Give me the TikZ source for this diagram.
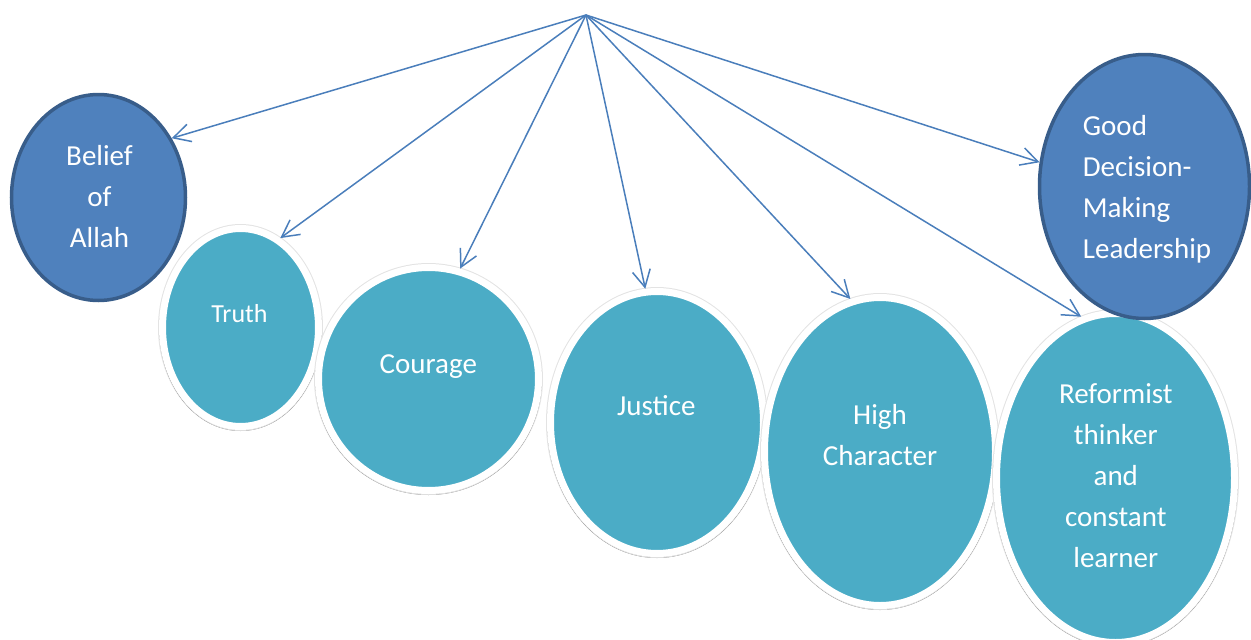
\documentclass[tikz,border=0pt]{standalone}
\usepackage{fontspec}
\setmainfont{Carlito}
\usetikzlibrary{arrows.meta,shapes.geometric,shadows.blur}
\definecolor{darkfill}{HTML}{4F81BD}
\definecolor{darkline}{HTML}{385D8A}
\definecolor{tealfill}{HTML}{4BACC6}
\definecolor{arrowblue}{HTML}{4A7EBB}

\begin{document}
\begin{tikzpicture}[x=1pt,y=-1pt,
  core/.style={ellipse, inner sep=0pt, fill=darkfill, draw=darkline, line width=3.5pt},
  trait/.style={ellipse, inner sep=0pt, fill=tealfill, draw=white, line width=7pt,
    preaction={draw=black!11, line width=9pt},
    blur shadow={shadow xshift=0pt, shadow yshift=-1.5pt, shadow opacity=30,
                 shadow blur radius=3pt, shadow blur steps=6}},
  lbl/.style={text=white, inner sep=0pt, anchor=base, font=\fontsize{29}{41}\selectfont},
  link/.style={draw=arrowblue, line width=1.5pt, -{Straight Barb[length=17pt,width=18pt]}}
]
\useasboundingbox (0,0) rectangle (1251,640);

% ellipses, back to front
\node[core,  minimum width=174pt, minimum height=206pt] (belief)  at (98.5,197.5) {};
\node[trait, minimum width=156pt, minimum height=198pt] (truth)   at (240.5,327.5) {};
\node[trait, minimum width=220pt, minimum height=223pt] (courage) at (428.5,379) {};
\node[trait, minimum width=213pt, minimum height=262pt] (justice) at (657,422.5) {};
\node[trait, minimum width=231pt, minimum height=308pt] (high)    at (880,451.5) {};
\node[trait, minimum width=238pt, minimum height=329pt] (reform)  at (1115.5,478) {};
\node[core,  minimum width=210pt, minimum height=264pt] (good)    at (1144.5,186.5) {};

% labels
\node[lbl] (t-belief) at (99.5,165)
  {\begin{tabular}[t]{@{}c@{}}Belief\\of\\Allah\end{tabular}};
\node[lbl, font=\fontsize{26}{36}\selectfont] (t-truth) at (239.5,322) {Truth};
\node[lbl] (t-courage) at (428.3,373.3) {Courage};
\node[lbl] (t-justice) at (656.3,415.7) {Justice};
\node[lbl] (t-high) at (880,424)
  {\begin{tabular}[t]{@{}c@{}}High\\Character\end{tabular}};
\node[lbl] (t-reform) at (1115.8,403)
  {\begin{tabular}[t]{@{}c@{}}Reformist\\thinker\\and\\constant\\learner\end{tabular}};
\node[lbl, anchor=base west] (t-good) at (1082.7,135)
  {\begin{tabular}[t]{@{}l@{}}Good\\Decision-\\Making\\Leadership\end{tabular}};

% connectors from the common apex
\coordinate (apex) at (586,15);
\draw[link] (apex) -- (belief.39);
\draw[link] (apex) -- (truth.66);
\draw[link] (apex) -- (courage.74.3);
\draw[link] (apex) -- (justice.95);
\draw[link] (apex) -- (high.101.2);
\draw[link] (apex) -- (reform.102.1);
\draw[link] (apex) -- (good.167);
\end{tikzpicture}
\end{document}
